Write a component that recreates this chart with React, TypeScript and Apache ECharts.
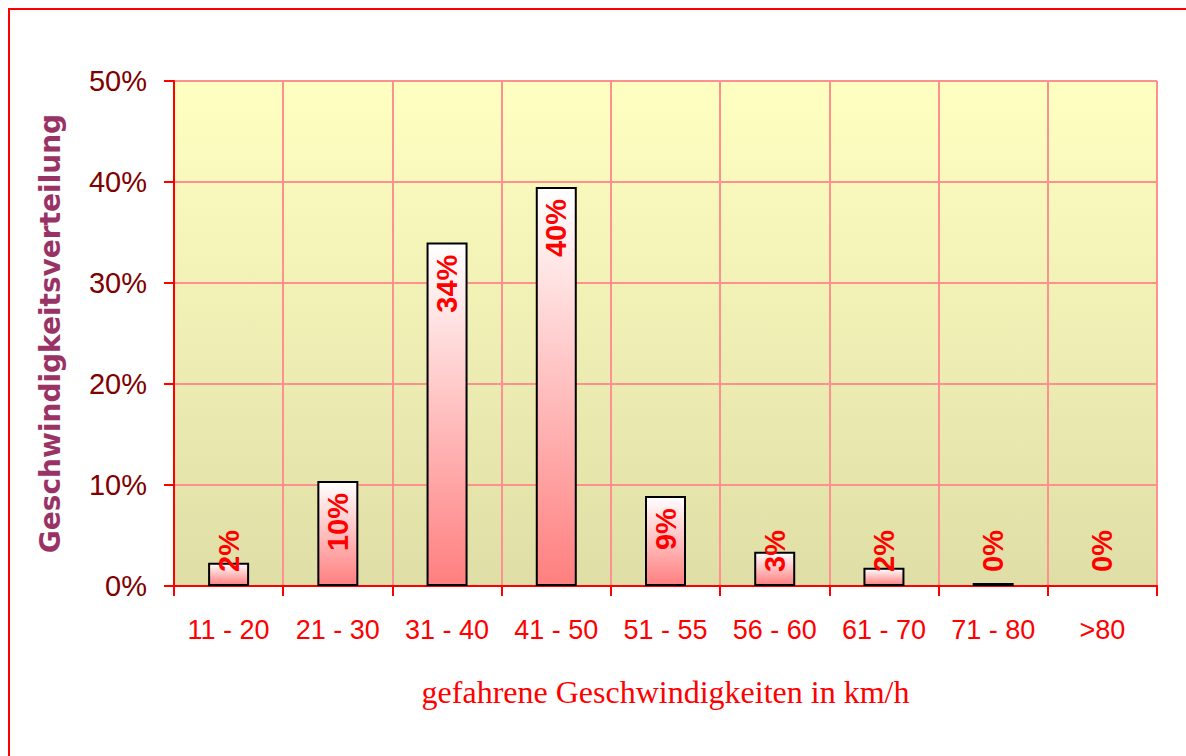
import React, { useEffect, useRef } from "react";
import * as echarts from "echarts";

const categories = ["11 - 20", "21 - 30", "31 - 40", "41 - 50", "51 - 55", "56 - 60", "61 - 70", "71 - 80", ">80"];
const shares = [2.3, 10.4, 34.0, 39.5, 8.9, 3.4, 1.8, 0.3, 0];
const yTicks = { min: 0, max: 50, interval: 10 };
const yAxisTitle = "Geschwindigkeitsverteilung";
const xAxisTitle = "gefahrene Geschwindigkeiten in km/h";

export default function App() {
  const ref = useRef<HTMLDivElement>(null);
  useEffect(() => {
    if (!ref.current) return;
    const chart = echarts.init(ref.current, undefined, { renderer: "svg" });
    const labelBase = {
      show: true,
      rotate: 90,
      color: "#ff0000",
      fontFamily: "Liberation Sans, Arial, sans-serif",
      fontWeight: "bold" as const,
      fontSize: 29,
      formatter: (p: any) => Math.round(p.value) + "%",
      verticalAlign: "middle" as const,
    };
    const data = shares.map((v) => ({
      value: v,
      itemStyle: v === 0 ? { borderWidth: 0 } : undefined,
      label:
        v >= 5
          ? { ...labelBase, position: "insideTop", distance: 12, align: "right" }
          : { ...labelBase, position: "insideBottom", distance: 14, align: "left" },
    }));
    chart.setOption({
      animation: false,
      backgroundColor: "#ffffff",
      grid: {
        left: 174,
        top: 81,
        width: 983,
        height: 505,
        show: true,
        borderWidth: 0,
        backgroundColor: new echarts.graphic.LinearGradient(0, 0, 0, 1, [
          { offset: 0, color: "#ffffc2" },
          { offset: 1, color: "#dfdea6" },
        ]),
      },
      graphic: [
        {
          type: "rect",
          shape: { x: 9, y: 9, width: 1200, height: 800 },
          style: { fill: "none", stroke: "#ff0000", lineWidth: 2 },
          silent: true,
        },
      ],
      xAxis: {
        type: "category",
        data: categories,
        name: xAxisTitle,
        nameLocation: "middle",
        nameGap: 90,
        nameTextStyle: {
          color: "#ff0000",
          fontFamily: "Liberation Serif, Times New Roman, serif",
          fontSize: 32,
        },
        axisLine: { lineStyle: { color: "#ff0000", width: 2 } },
        axisTick: { show: true, interval: 0, length: 10, lineStyle: { color: "#ff0000", width: 2 } },
        axisLabel: {
          interval: 0,
          color: "#ff0000",
          fontFamily: "Liberation Sans, Arial, sans-serif",
          fontSize: 27,
          margin: 30,
        },
        splitLine: { show: true, interval: 0, lineStyle: { color: "#ff9090", width: 2 } },
      },
      yAxis: {
        type: "value",
        min: yTicks.min,
        max: yTicks.max,
        interval: yTicks.interval,
        name: yAxisTitle,
        nameLocation: "middle",
        nameGap: 110,
        nameTextStyle: {
          color: "#993366",
          fontFamily: "DejaVu Sans, sans-serif",
          fontWeight: "bold",
          fontSize: 28,
        },
        axisLine: { show: true, lineStyle: { color: "#ff0000", width: 2 } },
        axisTick: { show: true, length: 10, lineStyle: { color: "#ff0000", width: 2 } },
        axisLabel: {
          color: "#800000",
          fontFamily: "Liberation Sans, Arial, sans-serif",
          fontSize: 29,
          margin: 27,
          formatter: "{value}%",
        },
        splitLine: { show: true, lineStyle: { color: "#ff9090", width: 2 } },
      },
      series: [
        {
          type: "bar",
          data,
          barWidth: 41,
          itemStyle: {
            color: new echarts.graphic.LinearGradient(0, 0, 0, 1, [
              { offset: 0, color: "#ffffff" },
              { offset: 1, color: "#ff7f7f" },
            ]),
            borderColor: "#000000",
            borderWidth: 2,
          },
        },
      ],
    });
    return () => chart.dispose();
  }, []);
  return (
    <div
      ref={ref}
      style={{ position: "absolute", left: 0, top: 0, width: 1186, height: 756 }}
    />
  );
}
